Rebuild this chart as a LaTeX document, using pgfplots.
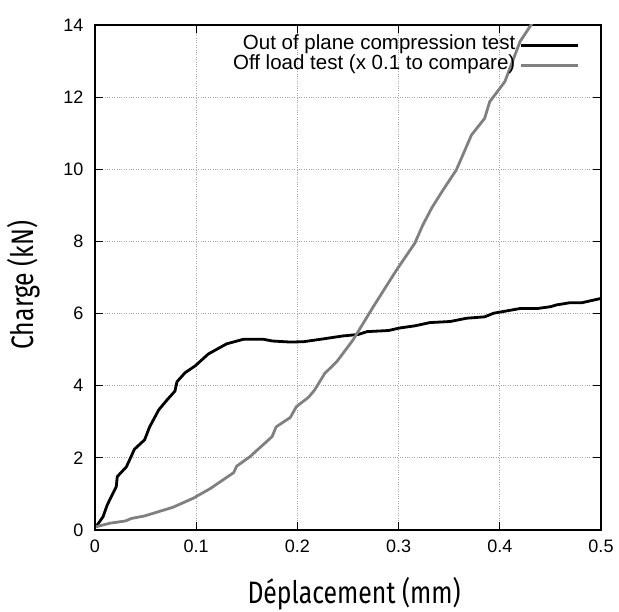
\documentclass[border=0pt]{standalone}
\usepackage{fontspec}
\setmainfont{Liberation Sans}
\newfontfamily\labfont[FakeStretch=0.8]{Fira Sans}
\usepackage{pgfplots}
\pgfplotsset{compat=1.18}
\definecolor{curvegray}{RGB}{128,128,128}
\begin{document}
\begin{tikzpicture}
\path[use as bounding box] (0,0) rectangle (619pt,611pt);
\begin{axis}[
  at={(95pt,81pt)}, anchor=south west,
  scale only axis, width=506pt, height=505pt,
  xmin=0, xmax=0.5, ymin=0, ymax=14,
  xtick={0,0.1,0.2,0.3,0.4,0.5},
  xticklabels={0,0.1,0.2,0.3,0.4,0.5},
  ytick={0,2,4,6,8,10,12,14},
  yticklabels={0,2,4,6,8,10,12,14},
  /pgf/number format/assume math mode=true,
  tick align=inside,
  major tick length=8pt,
  tick style={black, line width=1.2pt},
  axis line style={black, line width=1.6pt},
  grid=major,
  major grid style={dotted, gray!70, line width=0.8pt},
  ticklabel style={font=\fontsize{18}{18}\selectfont},
  xticklabel style={yshift=-6pt},
  yticklabel style={xshift=-8pt},
  xlabel={\labfont\fontsize{31}{31}\selectfont Déplacement (mm)},
  ylabel={\labfont\fontsize{31}{31}\selectfont Charge (kN)},
  xlabel style={at={(axis description cs:0.512,-0.1465)}, anchor=base, inner sep=0pt},
  ylabel style={at={(axis description cs:-0.1225,0.485)}, anchor=base, rotate=0, inner sep=0pt},
  legend style={at={(axis description cs:0.964,0.984)}, anchor=north east,
    draw=none, fill=none, font=\fontsize{20.5}{20.5}\selectfont,
    row sep=0pt,
    nodes={inner ysep=0pt, inner xsep=4.5pt, text height=14pt, text depth=6pt}},
  legend cell align=right,
  legend plot pos=right,
  legend image code/.code={\draw[#1] (4pt,0pt) -- (61pt,0pt);},
]
\addplot[black, line width=2.8pt, line join=round] coordinates {
(0.001,0.09)(0.008,0.37)(0.012,0.69)(0.021,1.20)(0.022,1.48)(0.031,1.75)(0.039,2.24)(0.049,2.50)(0.054,2.86)(0.063,3.33)(0.071,3.60)(0.079,3.85)(0.081,4.11)(0.089,4.36)(0.099,4.55)(0.112,4.88)(0.130,5.16)(0.147,5.29)(0.166,5.29)(0.175,5.24)(0.193,5.21)(0.206,5.22)(0.226,5.30)(0.245,5.38)(0.260,5.42)(0.269,5.50)(0.290,5.53)(0.301,5.60)(0.316,5.66)(0.331,5.75)(0.351,5.78)(0.367,5.87)(0.385,5.91)(0.394,6.01)(0.420,6.14)(0.437,6.14)(0.450,6.19)(0.456,6.24)(0.469,6.30)(0.481,6.30)(0.500,6.42)
};
\addlegendentry{Out of plane compression test}
\addplot[curvegray, line width=2.8pt, line join=round] coordinates {
(0.001,0.09)(0.015,0.19)(0.030,0.25)(0.036,0.32)(0.049,0.39)(0.077,0.63)(0.097,0.88)(0.114,1.15)(0.137,1.59)(0.140,1.77)(0.153,2.03)(0.175,2.59)(0.179,2.86)(0.193,3.12)(0.199,3.42)(0.211,3.68)(0.217,3.88)(0.227,4.34)(0.239,4.67)(0.255,5.27)(0.275,6.19)(0.298,7.21)(0.316,7.95)(0.324,8.46)(0.333,8.94)(0.344,9.43)(0.357,9.98)(0.372,10.95)(0.385,11.41)(0.390,11.87)(0.405,12.43)(0.420,13.54)(0.432,14.05)(0.44,14.6)
};
\addlegendentry{Off load test (x 0.1 to compare)}
\end{axis}
\end{tikzpicture}
\end{document}
